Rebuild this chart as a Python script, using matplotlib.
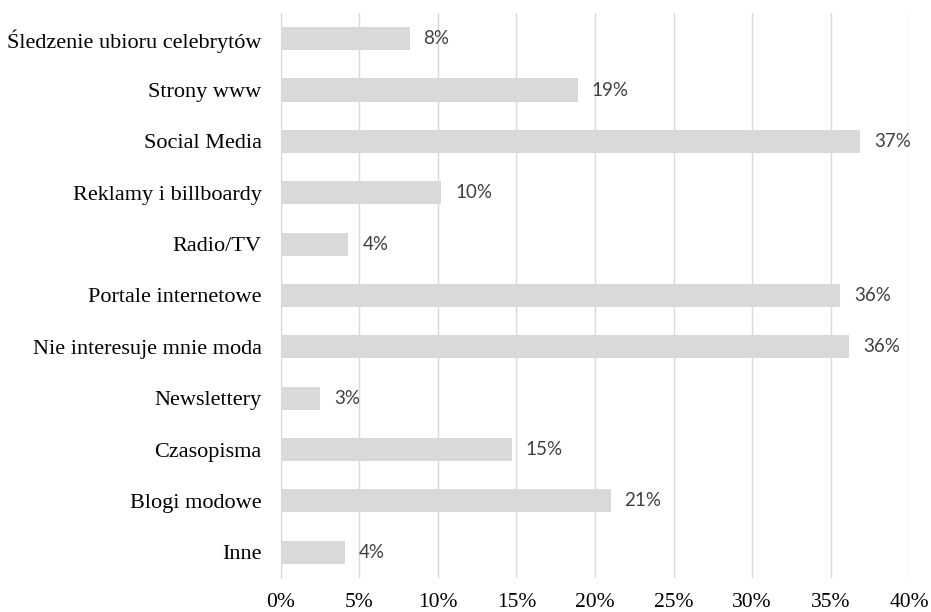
# Recreates the horizontal bar chart of fashion information sources

import matplotlib
matplotlib.use("Agg")
import matplotlib.pyplot as plt
from matplotlib.ticker import FuncFormatter

categories = [
    "Śledzenie ubioru celebrytów",
    "Strony www",
    "Social Media",
    "Reklamy i billboardy",
    "Radio/TV",
    "Portale internetowe",
    "Nie interesuje mnie moda",
    "Newslettery",
    "Czasopisma",
    "Blogi modowe",
    "Inne",
]
values = [8.2, 18.9, 36.9, 10.2, 4.3, 35.6, 36.2, 2.5, 14.7, 21.0, 4.1]
labels = ["8%", "19%", "37%", "10%", "4%", "36%", "36%", "3%", "15%", "21%", "4%"]
x_ticks = [0, 5, 10, 15, 20, 25, 30, 35, 40]


def main():
    fig = plt.figure(figsize=(9.31, 6.12), dpi=100)
    ax = fig.add_axes([0.3018, 0.0556, 0.6746, 0.9232])

    pos = list(range(len(categories)))
    ax.barh(pos, values, height=0.45, color="#d9d9d9", zorder=2)

    # value labels to the right of each bar
    for p, v, lab in zip(pos, values, labels):
        ax.annotate(lab, (v, p), xytext=(10, 0), textcoords="offset points",
                    va="center", ha="left", fontsize=13.5, family="Lato",
                    color="#404040")

    ax.set_ylim(len(categories) - 0.5, -0.5)
    ax.set_xlim(0, 40)
    ax.set_yticks(pos)
    ax.set_yticklabels(categories, family="Liberation Serif", fontsize=16,
                       color="#000000")
    ax.set_xticks(x_ticks)
    ax.xaxis.set_major_formatter(FuncFormatter(lambda x, _: f"{x:.0f}%"))
    for t in ax.get_xticklabels():
        t.set_family("Liberation Serif")
        t.set_fontsize(15.5)
    ax.tick_params(axis="both", length=0)
    ax.tick_params(axis="y", pad=14)
    ax.tick_params(axis="x", pad=11)

    ax.grid(axis="x", color="#d9d9d9", linewidth=1, zorder=0)
    for s in ["top", "right", "bottom"]:
        ax.spines[s].set_visible(False)
    ax.spines["left"].set_color("#d9d9d9")

    fig.savefig("out.png", dpi=100)


if __name__ == "__main__":
    main()
